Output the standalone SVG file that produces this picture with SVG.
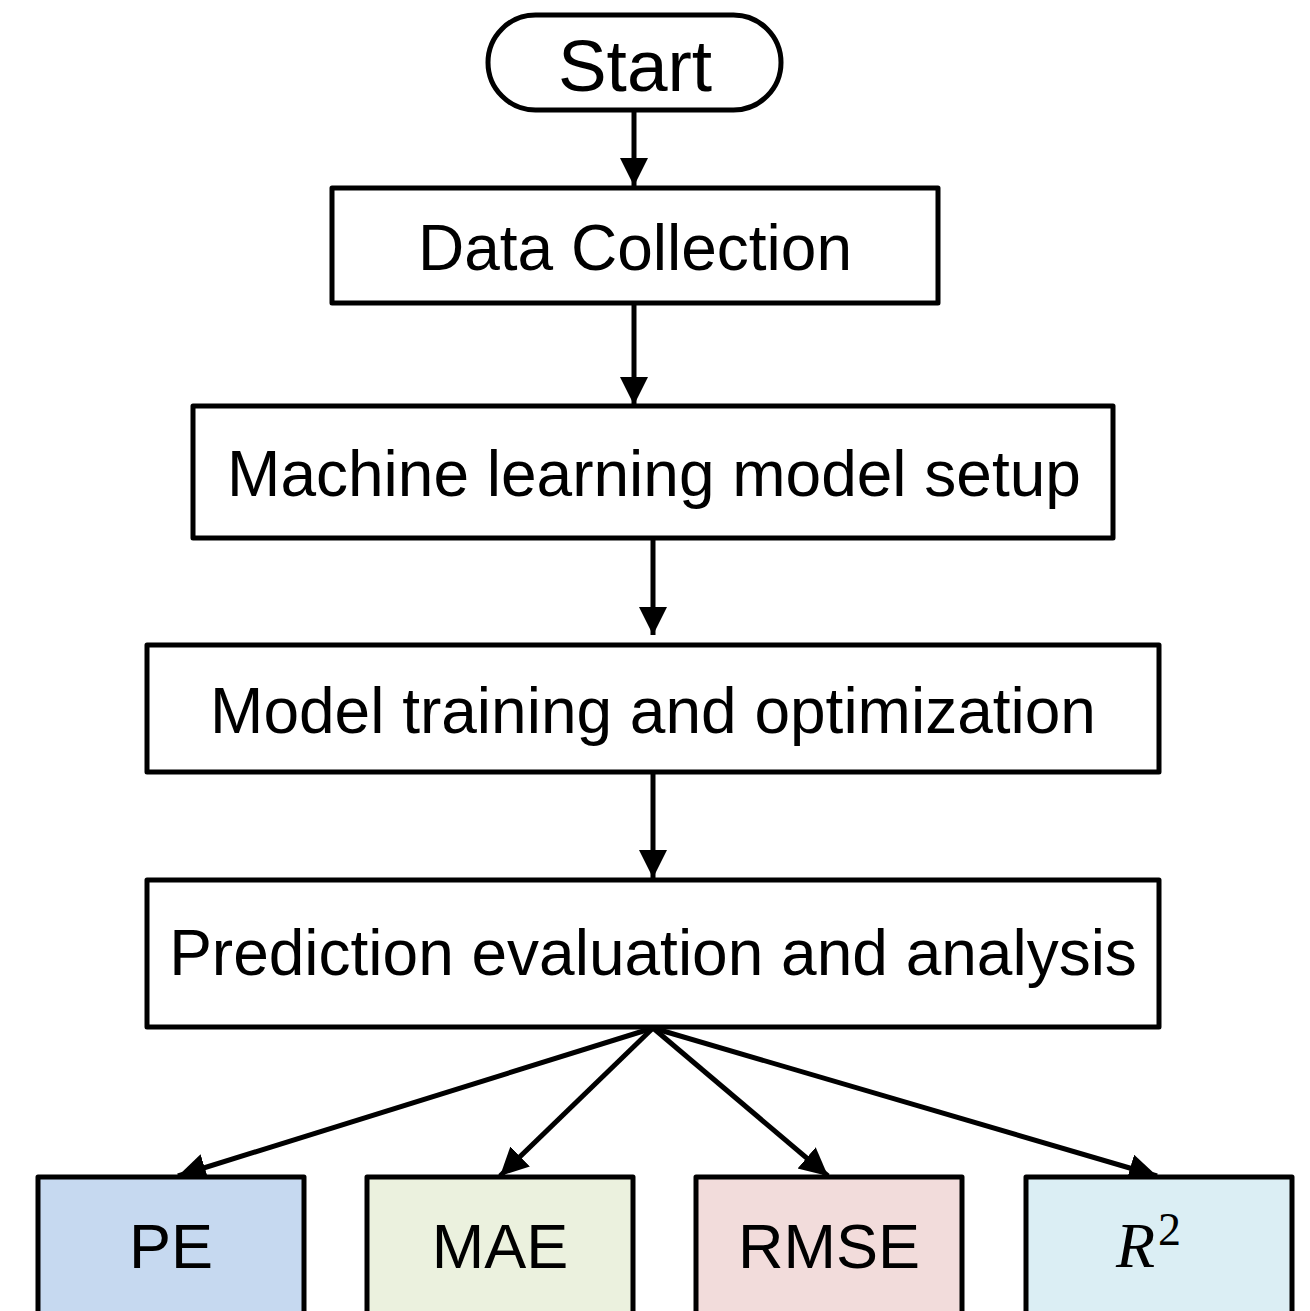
<svg xmlns="http://www.w3.org/2000/svg" width="1310" height="1311" viewBox="0 0 1310 1311">
  <style>
    .box { fill: #ffffff; stroke: #000000; stroke-width: 5; stroke-linejoin: round; }
    .label { font-family: "Liberation Sans", Arial, sans-serif; font-size: 64px; fill: #000000; text-anchor: middle; }
    .metric { font-family: "Liberation Sans", Arial, sans-serif; font-size: 63px; fill: #000000; text-anchor: middle; }
    .math { font-family: "Liberation Serif", "Times New Roman", serif; fill: #000000; }
    .edge { fill: none; stroke: #000000; stroke-width: 5; marker-end: url(#arrow); }
  </style>
  <defs>
    <marker id="arrow" markerUnits="userSpaceOnUse" markerWidth="29" markerHeight="29" refX="28" refY="14" orient="auto">
      <path d="M0,0 L28,14 L0,28 Z" fill="#000000"/>
    </marker>
  </defs>
  <rect width="1310" height="1311" fill="#ffffff"/>

  <g id="connectors">
    <line class="edge" x1="634" y1="111" x2="634" y2="186"/>
    <line class="edge" x1="634" y1="303" x2="634" y2="405"/>
    <line class="edge" x1="653" y1="539" x2="653" y2="635"/>
    <line class="edge" x1="653" y1="772" x2="653" y2="878"/>
    <line class="edge" x1="653" y1="1028" x2="178" y2="1176"/>
    <line class="edge" x1="653" y1="1028" x2="500" y2="1176"/>
    <line class="edge" x1="653" y1="1028" x2="828" y2="1176"/>
    <line class="edge" x1="653" y1="1028" x2="1157" y2="1176"/>
  </g>

  <g id="start">
    <rect class="box" x="488" y="15" width="293" height="95" rx="47.5" ry="47.5"/>
    <text class="label" x="635" y="91" style="font-size:73px">Start</text>
  </g>

  <g id="data-collection">
    <rect class="box" x="332" y="188" width="606" height="115"/>
    <text class="label" x="635" y="270">Data Collection</text>
  </g>

  <g id="model-setup">
    <rect class="box" x="193" y="406" width="920" height="132"/>
    <text class="label" x="654" y="496">Machine learning model setup</text>
  </g>

  <g id="training">
    <rect class="box" x="147" y="645" width="1012" height="127"/>
    <text class="label" x="653" y="733">Model training and optimization</text>
  </g>

  <g id="evaluation">
    <rect class="box" x="147" y="880" width="1012" height="147"/>
    <text class="label" x="653" y="975">Prediction evaluation and analysis</text>
  </g>

  <g id="pe">
    <rect class="box" x="38" y="1177" width="266" height="160" style="fill:#c6d9f0"/>
    <text class="metric" x="171" y="1268">PE</text>
  </g>

  <g id="mae">
    <rect class="box" x="367" y="1177" width="266" height="160" style="fill:#ebf1de"/>
    <text class="metric" x="500" y="1268">MAE</text>
  </g>

  <g id="rmse">
    <rect class="box" x="696" y="1177" width="266" height="160" style="fill:#f2dcdb"/>
    <text class="metric" x="829" y="1268">RMSE</text>
  </g>

  <g id="r-squared">
    <rect class="box" x="1026" y="1177" width="266" height="160" style="fill:#dbeef4"/>
    <text class="math" x="1116" y="1267" font-size="64" font-style="italic">R<tspan font-style="normal" font-size="46" dx="3" dy="-22">2</tspan></text>
  </g>
</svg>
